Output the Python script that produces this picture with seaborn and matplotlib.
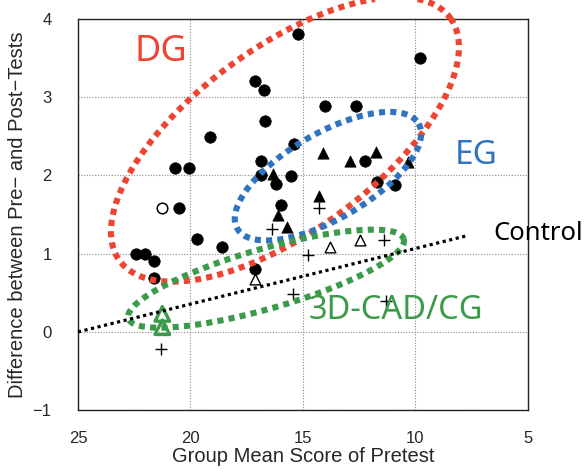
import numpy as np
import pandas as pd
import matplotlib
matplotlib.use("Agg")
import matplotlib.pyplot as plt
import seaborn as sns

# ---- data: group mean pretest score (x) vs. gain between pre- and post-test (y) ----
dg_x = [15.2, 9.8, 17.15, 16.75, 16.7, 14.0, 12.65, 19.15, 15.4, 20.7, 20.05,
        16.87, 16.87, 15.53, 16.19, 12.23, 11.71, 10.93, 20.5, 15.99, 19.73,
        18.6, 22.43, 22.04, 21.62, 21.62, 17.15]
dg_y = [3.81, 3.50, 3.20, 3.09, 2.69, 2.89, 2.89, 2.49, 2.40, 2.09, 2.09,
        2.18, 2.00, 1.99, 1.89, 2.19, 1.91, 1.88, 1.58, 1.62, 1.19,
        1.08, 1.00, 1.00, 0.90, 0.69, 0.80]

open_circle_x = [21.28]
open_circle_y = [1.58]

eg_x = [14.1, 12.92, 11.74, 10.34, 16.31, 14.29, 16.09, 15.72]
eg_y = [2.28, 2.18, 2.30, 2.17, 2.02, 1.74, 1.49, 1.34]

open_tri_x = [17.15, 13.78, 12.45]
open_tri_y = [0.68, 1.08, 1.17]

plus_x = [16.36, 14.29, 14.77, 11.42, 15.46, 11.30, 21.30]
plus_y = [1.32, 1.58, 0.98, 1.18, 0.49, 0.40, -0.22]

cad_x = [21.25, 21.25]
cad_y = [0.23, 0.06]

control_x = [25.0, 7.7]
control_y = [0.0, 1.23]

x_ticks = [25, 20, 15, 10, 5]
y_ticks = [-1, 0, 1, 2, 3, 4]

RED = "#ee4532"
BLUE = "#2f74c0"
GREEN = "#3b9b4a"

sns.set_style("white")
plt.rcParams["font.family"] = ["Liberation Sans", "DejaVu Sans"]

fig = plt.figure(figsize=(5.86, 4.72), dpi=100)
ax = fig.add_axes([0.133, 0.131, 0.768, 0.829])

def scatter(xs, ys, **kw):
    df = pd.DataFrame({"x": xs, "y": ys})
    sns.scatterplot(data=df, x="x", y="y", ax=ax, legend=False, zorder=3, **kw)

scatter(dg_x, dg_y, marker="o", s=68, color="black", edgecolor="black", linewidth=0.5)
scatter(open_circle_x, open_circle_y, marker="o", s=58, facecolor="white",
        edgecolor="black", linewidth=1.1)
scatter(eg_x, eg_y, marker="^", s=66, color="black", edgecolor="black", linewidth=0.5)
scatter(open_tri_x, open_tri_y, marker="^", s=60, facecolor="white",
        edgecolor="black", linewidth=1.0)
scatter(plus_x, plus_y, marker="+", s=75, color="black", linewidth=1.0)
scatter(cad_x, cad_y, marker="^", s=110, facecolor="none",
        edgecolor=GREEN, linewidth=2.4)

# control regression line
ax.plot(control_x, control_y, color="black", lw=2.3, linestyle=(0, (1, 1.1)),
        dash_capstyle="butt", zorder=5, clip_on=False)

# group outlines: center, semi-axis vectors (data units)
def outline(center, a, b, color):
    t = np.linspace(0, 2 * np.pi, 400)
    xs = center[0] + np.cos(t) * a[0] + np.sin(t) * b[0]
    ys = center[1] + np.cos(t) * a[1] + np.sin(t) * b[1]
    ax.plot(xs, ys, color=color, lw=4.4, linestyle=(0, (1, 0.85)),
            dash_capstyle="butt", zorder=4, clip_on=False)

outline((15.8, 2.46), (-7.35, 1.55), (-2.40, -0.95), RED)
outline((13.89, 1.99), (-4.03, 0.67), (-0.95, -0.475), BLUE)
outline((16.64, 0.68), (-6.12, 0.507), (-0.366, -0.368), GREEN)

group_font = ["Noto Sans", "DejaVu Sans"]
ax.text(21.33, 3.58, "DG", color=RED, fontsize=26, ha="center", va="center",
        family=group_font)
ax.text(7.3, 2.26, "EG", color=BLUE, fontsize=24, ha="center", va="center",
        family=group_font)
ax.text(14.73, 0.27, "3D-CAD/CG", color=GREEN, fontsize=23.5, ha="left", va="center",
        family=group_font)
ax.text(6.55, 1.26, "Control", color="black", fontsize=18.5, ha="left", va="center",
        family=group_font)

ax.set_xlim(25, 5)
ax.set_ylim(-1, 4)
ax.set_xticks(x_ticks)
ax.set_yticks(y_ticks)
ax.set_xticklabels([str(v) for v in x_ticks])
ax.set_yticklabels(["\u22121" if v < 0 else str(v) for v in y_ticks])
ax.tick_params(axis="both", length=0, labelsize=12)
ax.tick_params(axis="x", pad=15)
ax.tick_params(axis="y", pad=19)
ax.grid(True, color="#8a8a8a", lw=0.8, linestyle=(0, (1, 1.5)))
for sp in ax.spines.values():
    sp.set_color("#222222")
    sp.set_linewidth(1.0)
    sp.set_visible(True)

ax.set_xlabel("Group Mean Score of Pretest", fontsize=14.5, labelpad=1)
ax.set_ylabel("Difference between Pre\u2212 and Post\u2212Tests", fontsize=14.5, labelpad=4)

fig.savefig("out.png", dpi=100)
